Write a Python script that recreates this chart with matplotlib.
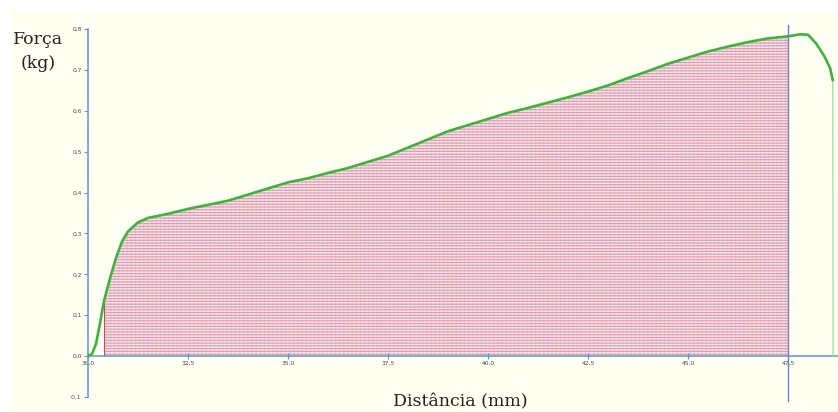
import numpy as np
import matplotlib
matplotlib.use("Agg")
import matplotlib.pyplot as plt
from matplotlib.patches import Rectangle

# Força x distância (leitura da curva)
dist = [30.0, 30.1, 30.2, 30.3, 30.4, 30.55, 30.7, 30.85, 31.0, 31.25, 31.5,
        32.0, 32.5, 33.0, 33.5, 34.0, 34.5, 35.0, 35.5, 36.0, 36.5, 37.0,
        37.5, 38.0, 38.5, 39.0, 39.5, 40.0, 40.5, 41.0, 41.5, 42.0, 42.5,
        43.0, 43.5, 44.0, 44.5, 45.0, 45.5, 46.0, 46.5, 47.0, 47.5, 47.8,
        48.0, 48.2, 48.4, 48.55, 48.62, 48.63]
forca = [0.0, 0.005, 0.03, 0.08, 0.135, 0.19, 0.24, 0.28, 0.305, 0.327, 0.338,
         0.348, 0.36, 0.37, 0.38, 0.395, 0.41, 0.425, 0.435, 0.448, 0.46, 0.475,
         0.49, 0.51, 0.53, 0.55, 0.565, 0.58, 0.595, 0.607, 0.62, 0.633, 0.647,
         0.662, 0.68, 0.697, 0.715, 0.73, 0.745, 0.757, 0.768, 0.777, 0.782, 0.787,
         0.786, 0.765, 0.735, 0.705, 0.675, 0.0]

x_ticks = [30.0, 32.5, 35.0, 37.5, 40.0, 42.5, 45.0, 47.5]
y_ticks = [-0.1, 0.0, 0.1, 0.2, 0.3, 0.4, 0.5, 0.6, 0.7, 0.8]
area_ini, area_fim = 30.4, 47.5

bg = "#fffff2"
axis_col = "#5a9bc8"
plt.rcParams["hatch.linewidth"] = 0.9

fig = plt.figure(figsize=(8.38, 4.12), dpi=100, facecolor=bg)
# margem branca à esquerda e no topo
fig.patches.append(Rectangle((0, 0), 10 / 838, 1, transform=fig.transFigure,
                             color="white", zorder=0))
fig.patches.append(Rectangle((0, 1 - 8 / 412), 1, 8 / 412, transform=fig.transFigure,
                             color="white", zorder=0))

ax = fig.add_axes([88 / 838, 15 / 412, 750 / 838, 368 / 412])
ax.set_facecolor(bg)
ax.set_xlim(30.0, 48.75)
ax.set_ylim(-0.1, 0.8)

x = np.array(dist)
y = np.array(forca)

# área hachurada sob a curva
xf = np.linspace(area_ini, area_fim, 400)
yf = np.interp(xf, x[:-1], y[:-1])
ax.fill_between(xf, 0, yf, facecolor="#fcecef", edgecolor="#ee96a2",
                hatch="------", linewidth=0, zorder=1)
ax.fill_between(xf, 0, yf, facecolor="none", edgecolor="#a8b4dc",
                hatch="||||", linewidth=0, zorder=1, alpha=0.4)
ax.vlines(area_ini, 0, yf[0], color="#c05060", lw=0.8, zorder=2)

# curva
ax.plot(x[:-1], y[:-1], color="#3cb43c", lw=1.9, zorder=4)
ax.plot(x[-2:], y[-2:], color="#a8dca8", lw=1.0, zorder=3)

ax.axvline(area_fim, ymin=-0.012, ymax=1.01, color="#7080b8", lw=1.0,
           clip_on=False, zorder=5)

# eixos
for s in ["top", "right"]:
    ax.spines[s].set_visible(False)
ax.spines["left"].set_color(axis_col)
ax.spines["left"].set_position(("data", 30.0))
ax.spines["bottom"].set_color(axis_col)
ax.spines["bottom"].set_position(("data", 0.0))
ax.spines["left"].set_linewidth(1.1)
ax.spines["bottom"].set_linewidth(1.1)

ax.set_xticks(x_ticks)
ax.set_xticklabels([f"{v:.1f}".replace(".", ",") for v in x_ticks])
ax.set_yticks(y_ticks)
ax.set_yticklabels([f"{v:.1f}".replace(".", ",") for v in y_ticks])
ax.tick_params(axis="both", colors=axis_col, labelcolor="#4a4a4a",
               labelsize=4.3, length=3, width=0.8, pad=1.5)
ax.tick_params(axis="x", direction="inout", length=4)

fig.text(38 / 838, 1 - 40 / 412, "Força", family="DejaVu Serif",
         fontsize=12.5, ha="center", va="center", color="#222222")
fig.text(38 / 838, 1 - 64 / 412, "(kg)", family="DejaVu Serif",
         fontsize=12.5, ha="center", va="center", color="#222222")
fig.text(460 / 838, 1 - 402 / 412, "Distância (mm)", family="DejaVu Serif",
         fontsize=12.5, ha="center", va="center", color="#222222")

fig.savefig("out.png", dpi=100, facecolor=bg)
